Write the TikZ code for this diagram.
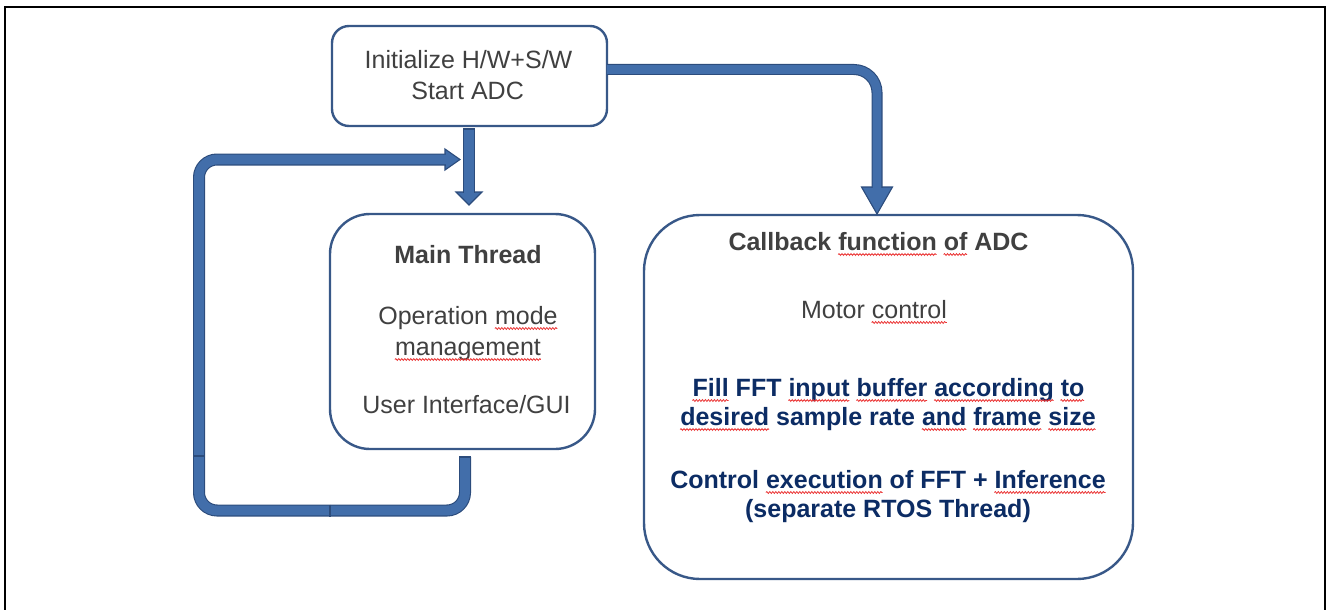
\documentclass[tikz,border=0pt]{standalone}
\usepackage{fontspec}
\setmainfont{Liberation Sans}
\usetikzlibrary{calc,decorations.pathmorphing}
\definecolor{boxline}{RGB}{56,88,136}
\definecolor{arrowfill}{RGB}{66,110,170}
\definecolor{arrowline}{RGB}{44,76,124}
\definecolor{greytext}{RGB}{64,64,64}
\definecolor{navytext}{RGB}{12,44,100}
\definecolor{sqred}{RGB}{235,50,50}
\newlength\sqa
\newlength\sqb
\newcommand\rfont{\fontsize{25}{30}\selectfont}
\newcommand\bfont{\fontsize{25}{30}\selectfont\bfseries}
% squiggle under a word: node, font, text before the word, word
\newcommand\sq[4]{%
  \pgfinterruptpicture
    \settowidth\sqa{#2#3}\global\sqa=\sqa
    \settowidth\sqb{#2#4}\global\sqb=\sqb
  \endpgfinterruptpicture
  \draw[sqline] ($(#1.base west)+(\sqa,-4.5pt)$) -- ++(\sqb,0pt);}
\tikzset{
  box/.style={draw=boxline, line width=2.4pt, fill=white, outer sep=0pt, inner sep=0pt},
  txt/.style={anchor=base, inner sep=0pt, text=greytext, font=\rfont},
  btxt/.style={txt, font=\bfont},
  ntxt/.style={btxt, text=navytext},
  shaft/.style={draw=arrowline, line width=1.1pt, double=arrowfill, double distance=9.8pt},
  thinshaft/.style={shaft, double distance=8.8pt},
  headtri/.style={fill=arrowfill, draw=arrowline, line width=1.1pt, line join=miter},
  seam/.style={draw=arrowline, line width=1.1pt},
  sqline/.style={draw=sqred, line width=0.8pt, decorate, decoration={snake, amplitude=0.9pt, segment length=3pt}},
}
\begin{document}
\begin{tikzpicture}[x=1pt, y=-1pt]
\useasboundingbox (0,0) rectangle (1326,610);
% outer frame
\draw[black, line width=2pt] (5,620) -- (5,7) -- (1325,7) -- (1325,620);

% boxes
\node[box, minimum width=275, minimum height=100, rounded corners=17] (init) at (469.5,76) {};
\node[box, minimum width=265, minimum height=235, rounded corners=40] (main) at (462.5,331.5) {};
\node[box, minimum width=489, minimum height=364, rounded corners=56] (cb) at (888.5,397) {};

% texts
\node[txt] (i1) at (468.5,68.3) {Initialize H/W+S/W};
\node[txt] (i2) at (467.6,99.3) {Start ADC};

\node[btxt] (m1) at (468,263) {Main Thread};
\node[txt] (m2) at (468,324) {Operation mode};
\node[txt] (m3) at (468,355) {management};
\node[txt] (m4) at (466.5,413) {User Interface/GUI};

\node[btxt] (c1) at (878.5,250) {Callback function of ADC};
\node[txt] (c2) at (874,318) {Motor control};
\node[ntxt] (c3) at (888.5,396) {Fill FFT input buffer according to};
\node[ntxt] (c4) at (888,425) {desired sample rate and frame size};
\node[ntxt] (c5) at (888,488) {Control execution of FFT + Inference};
\node[ntxt] (c6) at (888,517) {(separate RTOS Thread)};

% spell-check squiggles
\sq{m2}{\rfont}{Operation\space}{mode}
\sq{m3}{\rfont}{}{management}
\sq{c1}{\bfont}{Callback\space}{function}
\sq{c1}{\bfont}{Callback function\space}{of}
\sq{c2}{\rfont}{Motor\space}{control}
\sq{c3}{\bfont}{}{Fill}
\sq{c3}{\bfont}{Fill FFT\space}{input}
\sq{c3}{\bfont}{Fill FFT input\space}{buffer}
\sq{c3}{\bfont}{Fill FFT input buffer\space}{according}
\sq{c3}{\bfont}{Fill FFT input buffer according\space}{to}
\sq{c4}{\bfont}{}{desired}
\sq{c4}{\bfont}{desired sample rate\space}{and}
\sq{c4}{\bfont}{desired sample rate and\space}{frame}
\sq{c4}{\bfont}{desired sample rate and frame\space}{size}
\sq{c5}{\bfont}{Control\space}{execution}
\sq{c5}{\bfont}{Control execution of FFT +\space}{Inference}

% arrow init -> main
\coordinate (d0) at ($(init.south -| 469,0)+(0,3)$);
\coordinate (d1) at ($(main.north -| 469,0)+(0,-9)$);
\draw[headtri] ($(d1)+(-13,-13)$) -- (d1) -- ($(d1)+(13,-13)$) -- cycle;
\draw[shaft] (d0) -- ($(d1)+(0,-12.2)$);
\draw[seam] ($(d0)+(-6,0)$) -- ($(d0)+(6,0)$);

% arrow init -> callback
\coordinate (r0) at (init.east |- 0,69.5);
\coordinate (r1) at ($(cb.north -| 877,0)+(0,-1)$);
\draw[headtri] ($(r1)+(-15.5,-27)$) -- (r1) -- ($(r1)+(15.5,-27)$) -- cycle;
\draw[thinshaft, rounded corners=23] (r0) -- (r0 -| r1) -- ($(r1)+(0,-26.2)$);

% loop main -> main
\coordinate (l0) at ($(main.south -| 465,0)+(0,8)$);
\coordinate (l1) at ($(main.south -| 465,0)+(0,61.5)$);
\coordinate (l2) at ($(main.west |- l1)+(-131,0)$);
\coordinate (lt) at ($(main.north -| 460,0)+(0,-54.5)$);
\draw[headtri] ($(lt)+(-15,-10.5)$) -- (lt) -- ($(lt)+(-15,10.5)$) -- cycle;
\draw[shaft, rounded corners=18] (l0) -- (l1) -- (l2) -- (l2 |- lt) -- ($(lt)+(-14.2,0)$);
\draw[seam] ($(l0)+(-6,0)$) -- ($(l0)+(6,0)$);
% joints of the loop's segments
\draw[seam] ($(l2 |- 0,456)+(-6,0)$) -- ($(l2 |- 0,456)+(6,0)$);
\draw[seam] ($(l1 -| 330,0)+(0,-6)$) -- ($(l1 -| 330,0)+(0,6)$);
\end{tikzpicture}
\end{document}
